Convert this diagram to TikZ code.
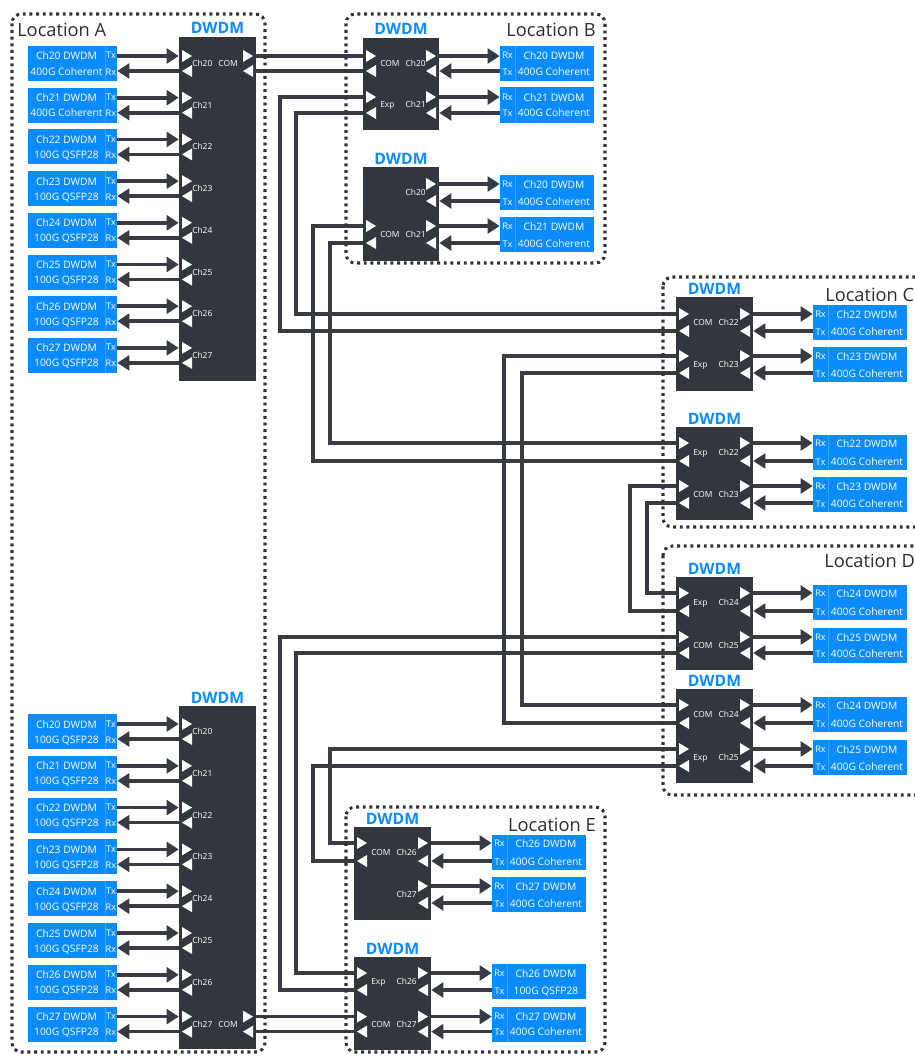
\documentclass[tikz,border=0pt]{standalone}
\usepackage{fontspec}
\setmainfont{Open Sans}
\usetikzlibrary{arrows.meta,fit}
\definecolor{boxdark}{RGB}{51,54,61}
\definecolor{linedark}{RGB}{56,59,66}
\definecolor{cblue}{RGB}{10,140,255}
\definecolor{loctext}{RGB}{45,45,45}
\definecolor{dotc}{RGB}{50,50,55}
\tikzset{
  dwdmbox/.style={fill=boxdark, inner sep=0pt, draw=none},
  client/.style={fill=cblue, inner sep=0pt, draw=none},
  cdiv/.style={draw=white, draw opacity=0.2, line width=0.5pt},
  ctext/.style={text=white, font=\fontsize{7.7}{9}\selectfont, inner sep=0pt},
  trx/.style={text=white, font=\fontsize{6.9}{8}\selectfont, inner sep=0pt},
  plab/.style={text=white, font=\fontsize{6.3}{7}\selectfont, inner sep=0pt},
  dlab/.style={text=cblue, font=\fontsize{11.8}{13}\selectfont\bfseries, inner sep=0pt, anchor=base},
  loclab/.style={text=loctext, font=\fontsize{13.7}{16}\selectfont, inner sep=0pt},
  locbox/.style={draw=dotc, line width=2.3pt, dash pattern=on 2.2pt off 2.8pt, rounded corners=7pt},
  link/.style={draw=linedark, line width=2.7pt},
  arr/.style={link, -{Triangle[length=9pt,width=11pt]}},
  portw/.style={fill=white},
}
% DWDM box: name, xl, yt, xr, yb
\newcommand{\dwdm}[5]{%
  \node[dwdmbox, fit={(#2,#3) (#4,#5)}] (#1) {};
  \node[dlab] (#1-lab) at ({(#2+#4)/2},#3-3) {DWDM};
}
% left port pair: xl, t, r
\newcommand{\portL}[3]{%
  \fill[portw] (#1+3,#2-6) -- (#1+13,#2) -- (#1+3,#2+6) -- cycle;
  \fill[portw] (#1+13,#3-6) -- (#1+3,#3) -- (#1+13,#3+6) -- cycle;
}
% right port pair: xr, t, r
\newcommand{\portR}[3]{%
  \fill[portw] (#1-13,#2-6) -- (#1-3,#2) -- (#1-13,#2+6) -- cycle;
  \fill[portw] (#1-3,#3-6) -- (#1-13,#3) -- (#1-3,#3+6) -- cycle;
}
% left client (Location A): name, t, r, ch, line2, dwdm
\newcommand{\cliL}[6]{%
  \pgfmathsetmacro{\cyy}{(#2+#3)/2}
  \node[client, fit={(28,\cyy-17.5) (117,\cyy+17.5)}] (#1) {};
  \draw[cdiv] (105,\cyy-17.5) -- (105,\cyy+17.5);
  \node[ctext, anchor=base] (#1-a) at (66.5,#2+4) {Ch#4 DWDM};
  \node[ctext, anchor=base] (#1-b) at (66.5,#3+4) {#5};
  \node[trx, anchor=base] (#1-x) at (111,#2+3) {Tx};
  \node[trx, anchor=base] (#1-y) at (111,#3+4) {Rx};
  \draw[arr] (#1.east |- 0,#2) -- (#6.west |- 0,#2);
  \draw[arr] (#6.west |- 0,#3) -- (#1.east |- 0,#3);
}
% right client: name, x0, t, r, ch, line2, dwdm
\newcommand{\cliR}[7]{%
  \pgfmathsetmacro{\cyy}{(#3+#4)/2}
  \node[client, fit={(#2,\cyy-17.5) (#2+94,\cyy+17.5)}] (#1) {};
  \draw[cdiv] (#2+15,\cyy-17.5) -- (#2+15,\cyy+17.5);
  \node[ctext, anchor=base] (#1-a) at (#2+54,#3+4) {Ch#5 DWDM};
  \node[ctext, anchor=base] (#1-b) at (#2+54,#4+4) {#6};
  \node[trx, anchor=base] (#1-x) at (#2+7.5,#3+3) {Rx};
  \node[trx, anchor=base] (#1-y) at (#2+7.5,#4+4) {Tx};
  \draw[arr] (#7.east |- 0,#3) -- (#1.west |- 0,#3);
  \draw[arr] (#1.west |- 0,#4) -- (#7.east |- 0,#4);
}
% port labels: name, x, t, r, text
\newcommand{\labL}[5]{\node[plab, anchor=base west] (#1) at (#2,{(#3+#4)/2+3}) {#5};}
\newcommand{\labR}[5]{\node[plab, anchor=base east] (#1) at (#2,{(#3+#4)/2+3}) {#5};}

\begin{document}
\begin{tikzpicture}[x=0.75pt,y=-0.75pt]
\useasboundingbox (0,0) rectangle (914,1056);

% ---------- DWDM boxes ----------
\dwdm{A1}{179}{37}{256}{381}
\dwdm{A2}{179}{706}{256}{1049}
\dwdm{B1}{363}{38}{439}{130}
\dwdm{B2}{363}{167}{439}{261}
\dwdm{C1}{676}{297}{753}{391}
\dwdm{C2}{676}{427}{753}{520}
\dwdm{D1}{676}{577}{753}{670}
\dwdm{D2}{676}{689}{753}{783}
\dwdm{E1}{354}{827}{431}{920}
\dwdm{E2}{354}{957}{431}{1050}

% ---------- inter-DWDM links ----------
\draw[link] (A1.east |- 0,56) -- (B1.west |- 0,56);
\draw[link] (A1.east |- 0,71) -- (B1.west |- 0,71);
\draw[link] (A2.east |- 0,1016.6) -- (E2.west |- 0,1016.6);
\draw[link] (A2.east |- 0,1031.6) -- (E2.west |- 0,1031.6);
\draw[link] (B1.west |- 0,97) -| (280,331) -- (C1.west |- 0,331);
\draw[link] (B1.west |- 0,113) -| (296,314) -- (C1.west |- 0,314);
\draw[link] (B2.west |- 0,226) -| (313,461) -- (C2.west |- 0,461);
\draw[link] (B2.west |- 0,243) -| (330,443) -- (C2.west |- 0,443);
\draw[link] (C1.west |- 0,356) -| (504,723) -- (D2.west |- 0,723);
\draw[link] (C1.west |- 0,373) -| (522,705) -- (D2.west |- 0,705);
\draw[link] (C2.west |- 0,486) -| (630,611) -- (D1.west |- 0,611);
\draw[link] (C2.west |- 0,503) -| (647,593) -- (D1.west |- 0,593);
\draw[link] (D1.west |- 0,637) -| (280,990) -- (E2.west |- 0,990);
\draw[link] (D1.west |- 0,653) -| (296,973) -- (E2.west |- 0,973);
\draw[link] (D2.west |- 0,749) -| (330,843) -- (E1.west |- 0,843);
\draw[link] (D2.west |- 0,766) -| (313,861) -- (E1.west |- 0,861);

% ---------- Location borders ----------
\draw[locbox] (12,14) rectangle (265,1052);
\draw[locbox] (346,14) rectangle (605,263);
\draw[locbox] (663,277) rectangle (940,527);
\draw[locbox] (663,546) rectangle (940,795);
\draw[locbox] (346,807) rectangle (605,1052);
\node[loclab, anchor=base west] (locA) at (17,37) {Location A};
\node[loclab, anchor=base east] (locB) at (596,37) {Location B};
\node[loclab, anchor=base west] (locC) at (825,301) {Location C};
\node[loclab, anchor=base west] (locD) at (824,567) {Location D};
\node[loclab, anchor=base east] (locE) at (596,831) {Location E};

% ---------- Location A ----------
\foreach \i in {0,...,7}{
  \pgfmathsetmacro{\ty}{56+41.7*\i}
  \pgfmathsetmacro{\ry}{71+41.7*\i}
  \pgfmathtruncatemacro{\chn}{20+\i}
  \ifnum\i<2 \def\lineB{400G Coherent}\else\def\lineB{100G QSFP28}\fi
  \cliL{cA\i}{\ty}{\ry}{\chn}{\lineB}{A1}
  \portL{179}{\ty}{\ry}
  \labL{A1-p\i}{192}{\ty}{\ry}{Ch\chn}
}
\portR{256}{56}{71}
\labR{A1-com}{238}{56}{71}{COM}

\foreach \i in {0,...,7}{
  \pgfmathsetmacro{\ty}{724+41.8*\i}
  \pgfmathsetmacro{\ry}{739+41.8*\i}
  \pgfmathtruncatemacro{\chn}{20+\i}
  \cliL{cF\i}{\ty}{\ry}{\chn}{100G QSFP28}{A2}
  \portL{179}{\ty}{\ry}
  \labL{A2-p\i}{192}{\ty}{\ry}{Ch\chn}
}
\portR{256}{1016.6}{1031.6}
\labR{A2-com}{238}{1016.6}{1031.6}{COM}

% ---------- Location B ----------
\portL{363}{56}{71}   \labL{B1-l0}{380}{56}{71}{COM}
\portL{363}{97}{113}  \labL{B1-l1}{380}{97}{113}{Exp}
\portR{439}{56}{71}   \labR{B1-r0}{426}{56}{71}{Ch20}
\portR{439}{97}{113}  \labR{B1-r1}{426}{97}{113}{Ch21}
\cliR{cB0}{500}{56}{71}{20}{400G Coherent}{B1}
\cliR{cB1}{500}{97}{113}{21}{400G Coherent}{B1}

\portL{363}{226}{243} \labL{B2-l1}{380}{226}{243}{COM}
\portR{439}{184}{201} \labR{B2-r0}{426}{184}{201}{Ch20}
\portR{439}{226}{243} \labR{B2-r1}{426}{226}{243}{Ch21}
\cliR{cB2}{500}{184}{201}{20}{400G Coherent}{B2}
\cliR{cB3}{500}{226}{243}{21}{400G Coherent}{B2}

% ---------- Location C ----------
\portL{676}{314}{331} \labL{C1-l0}{693}{314}{331}{COM}
\portL{676}{356}{373} \labL{C1-l1}{693}{356}{373}{Exp}
\portR{753}{314}{331} \labR{C1-r0}{739}{314}{331}{Ch22}
\portR{753}{356}{373} \labR{C1-r1}{739}{356}{373}{Ch23}
\cliR{cC0}{813}{314}{331}{22}{400G Coherent}{C1}
\cliR{cC1}{813}{356}{373}{23}{400G Coherent}{C1}

\portL{676}{443}{461} \labL{C2-l0}{693}{443}{461}{Exp}
\portL{676}{486}{503} \labL{C2-l1}{693}{486}{503}{COM}
\portR{753}{443}{461} \labR{C2-r0}{739}{443}{461}{Ch22}
\portR{753}{486}{503} \labR{C2-r1}{739}{486}{503}{Ch23}
\cliR{cC2}{813}{443}{461}{22}{400G Coherent}{C2}
\cliR{cC3}{813}{486}{503}{23}{400G Coherent}{C2}

% ---------- Location D ----------
\portL{676}{593}{611} \labL{D1-l0}{693}{593}{611}{Exp}
\portL{676}{637}{653} \labL{D1-l1}{693}{637}{653}{COM}
\portR{753}{593}{611} \labR{D1-r0}{739}{593}{611}{Ch24}
\portR{753}{637}{653} \labR{D1-r1}{739}{637}{653}{Ch25}
\cliR{cD0}{813}{593}{611}{24}{400G Coherent}{D1}
\cliR{cD1}{813}{637}{653}{25}{400G Coherent}{D1}

\portL{676}{705}{723} \labL{D2-l0}{693}{705}{723}{COM}
\portL{676}{749}{766} \labL{D2-l1}{693}{749}{766}{Exp}
\portR{753}{705}{723} \labR{D2-r0}{739}{705}{723}{Ch24}
\portR{753}{749}{766} \labR{D2-r1}{739}{749}{766}{Ch25}
\cliR{cD2}{813}{705}{723}{24}{400G Coherent}{D2}
\cliR{cD3}{813}{749}{766}{25}{400G Coherent}{D2}

% ---------- Location E ----------
\portL{354}{843}{861} \labL{E1-l0}{371}{843}{861}{COM}
\portR{431}{843}{861} \labR{E1-r0}{417}{843}{861}{Ch26}
\portR{431}{886}{903} \labR{E1-r1}{417}{886}{903}{Ch27}
\cliR{cE0}{492}{843}{861}{26}{400G Coherent}{E1}
\cliR{cE1}{492}{886}{903}{27}{400G Coherent}{E1}

\portL{354}{973}{990}       \labL{E2-l0}{371}{973}{990}{Exp}
\portL{354}{1016.6}{1031.6} \labL{E2-l1}{371}{1016.6}{1031.6}{COM}
\portR{431}{973}{990}       \labR{E2-r0}{417}{973}{990}{Ch26}
\portR{431}{1016.6}{1031.6} \labR{E2-r1}{417}{1016.6}{1031.6}{Ch27}
\cliR{cE2}{492}{973}{990}{26}{100G QSFP28}{E2}
\cliR{cE3}{492}{1016.6}{1031.6}{27}{400G Coherent}{E2}
\end{tikzpicture}
\end{document}
